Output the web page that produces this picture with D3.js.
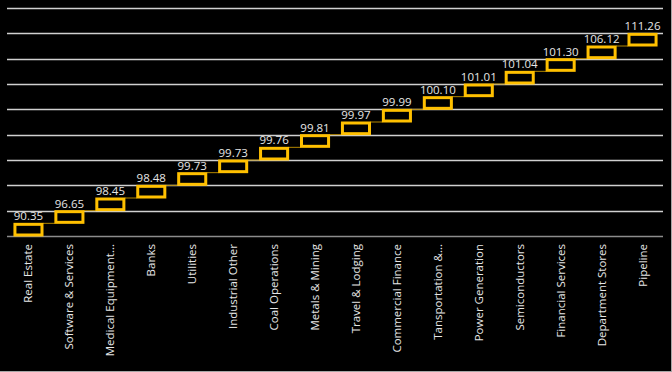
<!DOCTYPE html>
<html>
<head>
<meta charset="utf-8">
<script src="https://cdnjs.cloudflare.com/ajax/libs/d3/7.8.5/d3.min.js"></script>
<style>
	body { margin: 0; background: #000; }
	svg { display: block; }
	text { font-family: "Open Sans", "Noto Sans", sans-serif; }
</style>
</head>
<body>
<div id="chart"></div>
<script>
// Sector names (some truncated as in the source)
var categories = ["Real Estate", "Software & Services", "Medical Equipment...", "Banks", "Utilities",
	"Industrial Other", "Coal Operations", "Metals & Mining", "Travel & Lodging", "Commercial Finance",
	"Tansportation &...", "Power Generation", "Semiconductors", "Financial Services", "Department Stores", "Pipeline"];

var values = [90.35, 96.65, 98.45, 98.48, 99.73, 99.73, 99.76, 99.81, 99.97, 99.99,
	100.10, 101.01, 101.04, 101.30, 106.12, 111.26];

// grid levels on the (hidden) value axis
var gridTicks = [0, 1, 2, 3, 4, 5, 6, 7, 8, 9];

var width = 672,
	height = 372;

var plot = {
	left: 8,
	right: 663,
	top: 8,
	bottom: 236
};

var svg = d3.select("#chart").append("svg")
	.attr("width", width)
	.attr("height", height);

svg.append("rect")
	.attr("width", width)
	.attr("height", height)
	.attr("fill", "#000");

// frame edges that show at right / bottom
svg.append("line")
	.attr("x1", width - 0.5).attr("x2", width - 0.5)
	.attr("y1", 0).attr("y2", height)
	.attr("stroke", "#a6a6a6");
svg.append("line")
	.attr("x1", 0).attr("x2", width)
	.attr("y1", height - 0.5).attr("y2", height - 0.5)
	.attr("stroke", "#a6a6a6");

var x = d3.scaleBand()
	.domain(categories)
	.range([plot.left, plot.right])
	.paddingInner(0.29)
	.paddingOuter(0.145);

// boxes step up by rank, half a grid level each
var y = d3.scaleLinear()
	.domain([0, 9])
	.range([plot.bottom, plot.top]);

var step = 0.5;

// Gridlines
svg.selectAll("line.grid")
	.data(gridTicks)
	.enter()
	.append("line")
	.attr("class", "grid")
	.attr("x1", plot.left - 1)
	.attr("x2", plot.right)
	.attr("y1", function(d) { return Math.round(y(d)) + 0.5; })
	.attr("y2", function(d) { return Math.round(y(d)) + 0.5; })
	.attr("stroke", function(d) { return d === 0 ? "#8c8c8c" : "#d0d0d0"; })
	.attr("stroke-width", 1.3);

var data = categories.map(function(c, i) {
	return { name: c, value: values[i], rank: i };
});

// connectors between neighbouring boxes
svg.selectAll("line.conn")
	.data(data.slice(1))
	.enter()
	.append("line")
	.attr("class", "conn")
	.attr("x1", function(d) { return x(categories[d.rank - 1]) + x.bandwidth(); })
	.attr("x2", function(d) { return x(d.name); })
	.attr("y1", function(d) { return y(d.rank * step); })
	.attr("y2", function(d) { return y(d.rank * step); })
	.attr("stroke", "#b38600")
	.attr("stroke-width", 1);

// boxes
svg.selectAll("rect.box")
	.data(data)
	.enter()
	.append("rect")
	.attr("class", "box")
	.attr("x", function(d) { return x(d.name) + 1; })
	.attr("y", function(d) { return y((d.rank + 1) * step) + 1; })
	.attr("width", x.bandwidth() - 2)
	.attr("height", function(d) { return y(d.rank * step) - y((d.rank + 1) * step) - 2; })
	.attr("fill", "none")
	.attr("stroke", "#ffc000")
	.attr("stroke-width", 3);

// value labels
svg.selectAll("text.val")
	.data(data)
	.enter()
	.append("text")
	.attr("class", "val")
	.attr("x", function(d) { return x(d.name) + x.bandwidth() / 2; })
	.attr("y", function(d) { return y((d.rank + 1) * step) - 3; })
	.attr("text-anchor", "middle")
	.attr("fill", "#e6e6e6")
	.attr("font-size", "11.5px")
	.text(function(d) { return d.value.toFixed(2); });

// category labels, rotated
svg.selectAll("text.cat")
	.data(data)
	.enter()
	.append("text")
	.attr("class", "cat")
	.attr("transform", function(d) {
		return "translate(" + (x(d.name) + x.bandwidth() / 2 + 4) + "," + (plot.bottom + 8) + ") rotate(-90)";
	})
	.attr("text-anchor", "end")
	.attr("fill", "#e6e6e6")
	.attr("font-size", "11.5px")
	.text(function(d) { return d.name; });
</script>
</body>
</html>
